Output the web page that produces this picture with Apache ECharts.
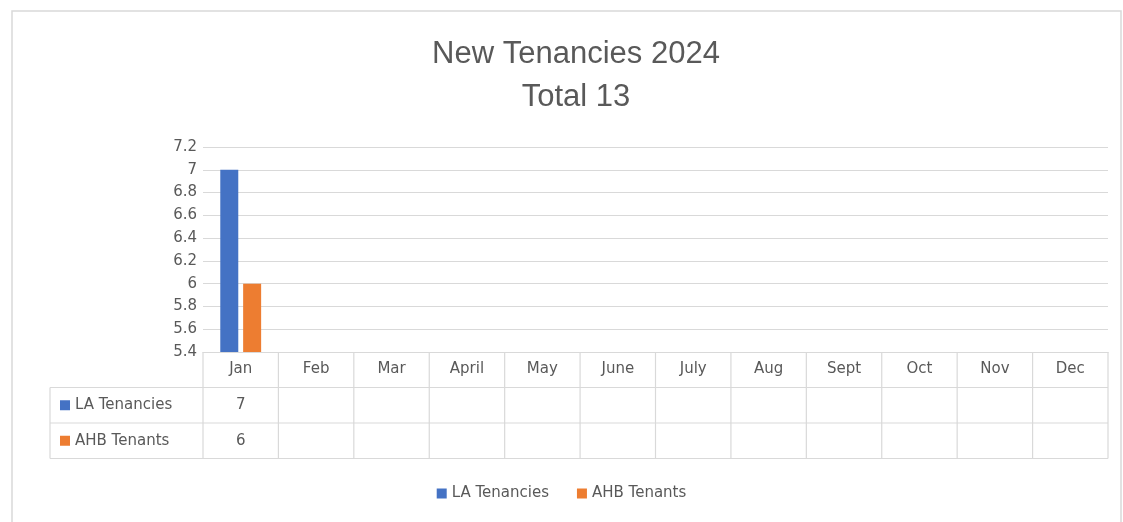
<!DOCTYPE html>
<html>
<head>
<meta charset="utf-8">
<script src="https://cdn.jsdelivr.net/npm/echarts@6/dist/echarts.min.js"></script>
<style>
  html, body { margin: 0; padding: 0; background: #fff; }
  #chart { width: 1123px; height: 522px; }
</style>
</head>
<body>
<div id="chart"></div>
<script>
const months = ['Jan', 'Feb', 'Mar', 'April', 'May', 'June', 'July', 'Aug', 'Sept', 'Oct', 'Nov', 'Dec']
const laTenancies = [7, null, null, null, null, null, null, null, null, null, null, null]
const ahbTenants = [6, null, null, null, null, null, null, null, null, null, null, null]
const seriesNames = ['LA Tenancies', 'AHB Tenants']
const colors = ['#4472c4', '#ed7d31']

const TITLE_FONT = "'Liberation Sans', sans-serif"
const FONT = "'DejaVu Sans', sans-serif"
const TXT = '#595959'
const LINE = '#d9d9d9'

// plot area (px)
const G = { left: 203, right: 15, top: 147, bottom: 170 }
const W = 1123, H = 522
const plotR = W - G.right
const plotB = H - G.bottom
const colW = (plotR - G.left) / months.length
const rowH = 35.5
const tableLeft = 50

const chart = echarts.init(document.getElementById('chart'))

function tableGraphics() {
  const els = []
  // outer chart border
  els.push({ type: 'rect', shape: { x: 12, y: 11, width: 1109, height: 530 },
    style: { fill: 'none', stroke: LINE, lineWidth: 1.5 }, silent: true })
  // horizontal lines
  const rows = [plotB + rowH, plotB + rowH * 2, plotB + rowH * 3]
  rows.forEach(y => els.push({ type: 'line', shape: { x1: tableLeft, y1: y, x2: plotR, y2: y },
    style: { stroke: LINE, lineWidth: 1.2 } }))
  // vertical lines
  for (let i = 0; i <= months.length; i++) {
    const x = G.left + i * colW
    els.push({ type: 'line', shape: { x1: x, y1: plotB, x2: x, y2: plotB + rowH * 3 },
      style: { stroke: LINE, lineWidth: 1.2 } })
  }
  els.push({ type: 'line', shape: { x1: tableLeft, y1: plotB + rowH, x2: tableLeft, y2: plotB + rowH * 3 },
    style: { stroke: LINE, lineWidth: 1.2 } })
  // row headers + values
  const data = [laTenancies, ahbTenants]
  data.forEach((vals, r) => {
    const cy = plotB + rowH * (r + 1.5)
    els.push({ type: 'rect', shape: { x: 60, y: cy - 5, width: 10, height: 10 }, style: { fill: colors[r] } })
    els.push({ type: 'text', x: 75, y: cy, style: { text: seriesNames[r], fill: TXT, font: '15px ' + FONT,
      textVerticalAlign: 'middle', textAlign: 'left' } })
    vals.forEach((v, i) => {
      if (v == null) return
      els.push({ type: 'text', x: G.left + (i + 0.5) * colW, y: cy, style: { text: String(v), fill: TXT,
        font: '15px ' + FONT, textAlign: 'center', textVerticalAlign: 'middle' } })
    })
  })
  return els
}

const option = {
  animation: false,
  title: {
    text: 'New Tenancies 2024\nTotal 13',
    left: 571,
    textAlign: 'center',
    top: 28,
    textStyle: { fontFamily: TITLE_FONT, fontSize: 31, fontWeight: 'normal', color: TXT, lineHeight: 43 }
  },
  legend: {
    data: seriesNames,
    bottom: 16,
    left: 'center',
    icon: 'rect',
    itemWidth: 10,
    itemHeight: 10,
    itemGap: 28,
    textStyle: { fontFamily: FONT, fontSize: 15, color: TXT }
  },
  grid: G,
  xAxis: {
    type: 'category',
    data: months,
    axisLine: { lineStyle: { color: LINE, width: 1.2 } },
    axisTick: { show: false },
    axisLabel: { color: TXT, fontFamily: FONT, fontSize: 15, margin: 10 }
  },
  yAxis: {
    type: 'value',
    min: 5.4,
    max: 7.2,
    interval: 0.2,
    axisLine: { show: false },
    axisTick: { show: false },
    axisLabel: { color: TXT, fontFamily: FONT, fontSize: 15, margin: 6,
      formatter: v => String(Math.round(v * 10) / 10) },
    splitLine: { lineStyle: { color: LINE, width: 1.2 } }
  },
  series: [
    { name: seriesNames[0], type: 'bar', data: laTenancies, itemStyle: { color: colors[0] },
      barWidth: 18, barGap: '27%' },
    { name: seriesNames[1], type: 'bar', data: ahbTenants, itemStyle: { color: colors[1] },
      barWidth: 18, barGap: '27%' }
  ],
  graphic: tableGraphics()
}

chart.setOption(option)
</script>
</body>
</html>
